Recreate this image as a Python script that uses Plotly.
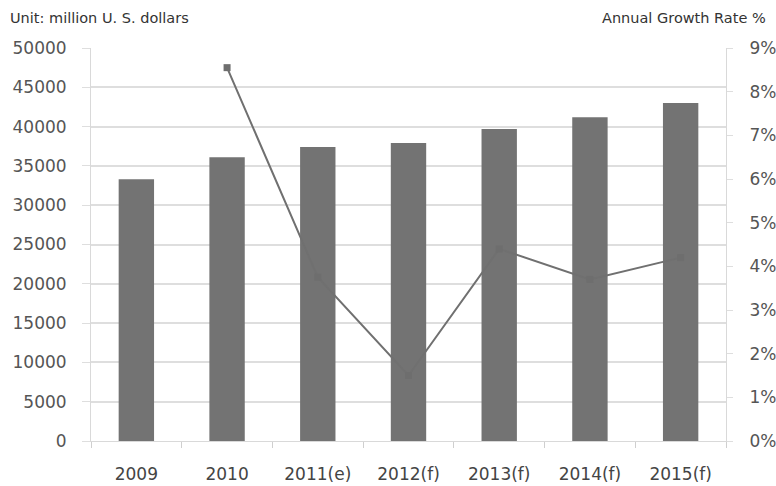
import plotly.graph_objects as go

categories = ["2009", "2010", "2011(e)", "2012(f)", "2013(f)", "2014(f)", "2015(f)"]
market_size = [33300, 36100, 37400, 37900, 39700, 41200, 43000]
growth_rate = [None, 8.55, 3.75, 1.5, 4.4, 3.7, 4.2]

left_ticks = list(range(0, 50001, 5000))
left_labels = [str(v) for v in left_ticks]
right_ticks = list(range(0, 10))
right_labels = [f"{v}%" for v in right_ticks]

W, H = 776, 486
ML, MR, MT, MB = 91, 50, 48, 45
PW, PH = W - ML - MR, H - MT - MB

fig = go.Figure()
fig.add_trace(go.Bar(
    x=categories, y=market_size, marker=dict(color="#737373", line=dict(width=0)),
    yaxis="y", name="Market size",
))
fig.add_trace(go.Scatter(
    x=categories, y=growth_rate, mode="lines+markers", yaxis="y2",
    line=dict(color="#707070", width=2),
    marker=dict(symbol="square", size=7, color="#6e6e6e"),
    name="Growth rate", connectgaps=False,
))

tick_font = dict(family="DejaVu Sans, sans-serif", size=17, color="#555555")
head_font = dict(family="DejaVu Sans, sans-serif", size=14.5, color="#333333")

fig.update_layout(
    width=W, height=H,
    margin=dict(l=ML, r=MR, t=MT, b=MB, autoexpand=False),
    paper_bgcolor="white", plot_bgcolor="white",
    showlegend=False,
    bargap=0.61,
    xaxis=dict(
        type="category", tickfont=dict(family="DejaVu Sans, sans-serif", size=17, color="#444444"),
        ticks="outside", tickson="boundaries", ticklen=6, tickcolor="#cfcfcf",
        showline=True, linecolor="#d9d9d9", showgrid=False, fixedrange=True,
        ticklabelstandoff=18, automargin=False,
    ),
    yaxis=dict(
        range=[0, 50000], tickvals=left_ticks, ticktext=left_labels, tickfont=tick_font,
        showgrid=True, gridcolor="#dedede", gridwidth=1.5,
        showline=True, linecolor="#d9d9d9", ticks="outside", ticklen=8, tickcolor="#dedede",
        zeroline=False, ticklabelstandoff=12, automargin=False,
    ),
    yaxis2=dict(
        range=[0, 9], tickvals=right_ticks, ticktext=right_labels, tickfont=tick_font,
        overlaying="y", side="right", showgrid=False,
        showline=True, linecolor="#d9d9d9", ticks="outside", ticklen=6, tickcolor="#dedede",
        zeroline=False, ticklabelstandoff=13, automargin=False,
    ),
    annotations=[
        dict(text="Unit: million U. S. dollars", x=(8 - ML) / PW, y=1 + (MT - 18) / PH,
             xref="paper", yref="paper", xanchor="left", yanchor="middle",
             showarrow=False, font=head_font),
        dict(text="Annual Growth Rate %", x=(768 - ML) / PW, y=1 + (MT - 18) / PH,
             xref="paper", yref="paper", xanchor="right", yanchor="middle",
             showarrow=False, font=head_font),
    ],
)

fig.write_html("out.html")
